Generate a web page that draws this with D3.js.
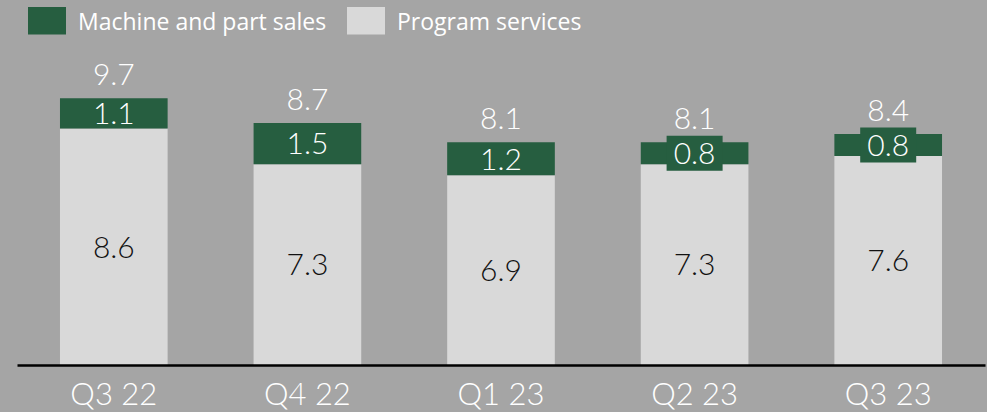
<!DOCTYPE html>
<html>
<head>
<meta charset="utf-8">
<script src="https://cdn.jsdelivr.net/npm/d3@7"></script>
<style>
  body { margin: 0; background: #a5a5a5; }
  svg { display: block; }
</style>
</head>
<body>
<script>
// quarterly revenue split
var quarters = ["Q3 22", "Q4 22", "Q1 23", "Q2 23", "Q3 23"];
var programServices = [8.6, 7.3, 6.9, 7.3, 7.6];
var machineSales = [1.1, 1.5, 1.2, 0.8, 0.8];
var totals = [9.7, 8.7, 8.1, 8.1, 8.4];
var seriesNames = ["Machine and part sales", "Program services"];

var width = 987, height = 412;
var green = "#265e40", grey = "#d9d9d9";
var valueFont = "Lato, 'Open Sans', sans-serif";

var rows = quarters.map(function(q, i){
	return {quarter: q, program: programServices[i], machine: machineSales[i], total: totals[i]};
});

var svg = d3.select("body").append("svg").attr("width", width).attr("height", height);
svg.append("rect").attr("width", width).attr("height", height).attr("fill", "#a5a5a5");

var x = d3.scaleBand().domain(quarters).range([17, 985]).paddingInner(0.444).paddingOuter(0.222);
var y = d3.scaleLinear().domain([0, 10]).range([365, 90]);

var stacked = d3.stack().keys(["program", "machine"])(rows);

// bars
svg.selectAll(".layer").data(stacked).enter().append("g")
	.attr("class", "layer")
	.attr("fill", function(d){ return d.key === "program" ? grey : green; })
	.selectAll("rect").data(function(d){ return d; }).enter().append("rect")
	.attr("x", function(d){ return x(d.data.quarter); })
	.attr("width", x.bandwidth())
	.attr("y", function(d){ return y(d[1]); })
	.attr("height", function(d){ return y(d[0]) - y(d[1]); });

// program services labels (dark text)
svg.selectAll(".prog-label").data(stacked[0]).enter().append("text")
	.attr("class", "prog-label")
	.attr("x", function(d){ return x(d.data.quarter) + x.bandwidth() / 2; })
	.attr("y", function(d){ return (y(d[0]) + y(d[1])) / 2; })
	.attr("dy", "0.36em")
	.attr("text-anchor", "middle")
	.attr("font-family", valueFont).attr("font-weight", 300)
	.attr("font-size", "30px").attr("fill", "#111")
	.text(function(d){ return d.data.program.toFixed(1); });

// machine labels, with a green box when the segment is too thin
var mLabels = svg.selectAll(".mach-label").data(stacked[1]).enter().append("g")
	.attr("class", "mach-label")
	.attr("transform", function(d){
		return "translate(" + (x(d.data.quarter) + x.bandwidth() / 2) + "," + ((y(d[0]) + y(d[1])) / 2) + ")";
	});
mLabels.filter(function(d){ return y(d[0]) - y(d[1]) < 30; }).append("rect")
	.attr("x", -28).attr("y", -17.5).attr("width", 56).attr("height", 35)
	.attr("fill", green);
mLabels.append("text")
	.attr("dy", "0.36em")
	.attr("text-anchor", "middle")
	.attr("font-family", valueFont).attr("font-weight", 300)
	.attr("font-size", "30px").attr("fill", "#fff")
	.text(function(d){ return d.data.machine.toFixed(1); });

// totals above bars
svg.selectAll(".total").data(stacked[1]).enter().append("text")
	.attr("class", "total")
	.attr("x", function(d){ return x(d.data.quarter) + x.bandwidth() / 2; })
	.attr("y", function(d){ return y(d[1]) - 13; })
	.attr("text-anchor", "middle")
	.attr("font-family", valueFont).attr("font-weight", 300)
	.attr("font-size", "30px").attr("fill", "#fff")
	.text(function(d){ return d.data.total.toFixed(1); });

// category axis
var axis = svg.append("g").attr("transform", "translate(0,365)")
	.call(d3.axisBottom(x).tickSize(0).tickPadding(18));
axis.select(".domain").attr("stroke", "#000").attr("stroke-width", 2.5);
axis.selectAll("text")
	.attr("font-family", valueFont).attr("font-weight", 300)
	.attr("font-size", "31px").attr("fill", "#fff");

// legend
var legend = svg.append("g").attr("class", "legend");
var legendX = [28, 347];
var legendItems = legend.selectAll("g").data(seriesNames).enter().append("g")
	.attr("transform", function(d, i){ return "translate(" + legendX[i] + ",7)"; });
legendItems.append("rect")
	.attr("width", 38).attr("height", 27.5)
	.attr("fill", function(d, i){ return i === 0 ? green : grey; });
legendItems.append("text")
	.attr("x", 50).attr("y", 22.5)
	.attr("font-family", "'Open Sans', sans-serif")
	.attr("font-size", "23px").attr("fill", "#fff")
	.text(function(d){ return d; });
</script>
</body>
</html>
